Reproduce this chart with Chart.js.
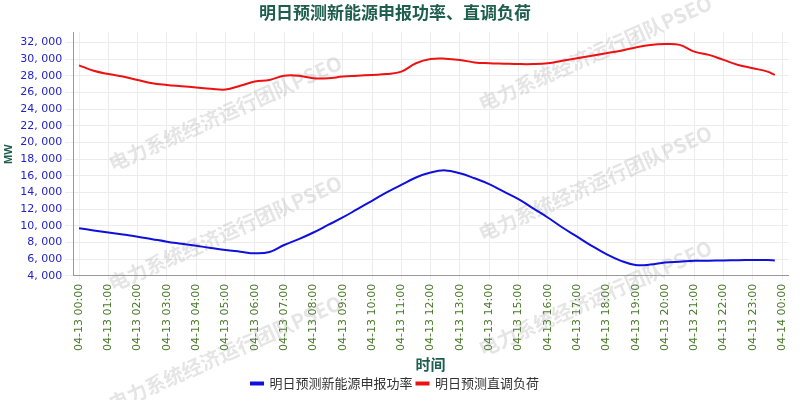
<!DOCTYPE html>
<html><head><meta charset="utf-8">
<script src="https://cdn.jsdelivr.net/npm/chart.js"></script>
<style>body{margin:0;background:#fff}</style>
</head><body><canvas id="c" width="800" height="400"></canvas>
<script>
const hours = [0,0.5,1,1.5,2,2.5,3,3.5,4,4.5,5,5.5,6,6.5,7,7.5,8,8.5,9,9.5,10,10.5,11,11.5,12,12.5,13,13.5,14,14.5,15,15.5,16,16.5,17,17.5,18,18.5,19,19.5,20,20.5,21,21.5,22,22.5,23,23.5,23.75];
const newEnergy = [9700,9450,9200,8950,8700,8400,8100,7850,7600,7350,7100,6900,6700,6850,7700,8400,9200,10100,11000,12000,13000,14000,14900,15800,16400,16650,16300,15700,15000,14100,13200,12100,11000,9800,8700,7600,6600,5800,5300,5350,5600,5700,5800,5820,5850,5880,5900,5900,5850];
const load = [29250,28600,28200,27900,27500,27100,26900,26750,26600,26450,26350,26800,27300,27500,28000,28000,27700,27700,27900,28000,28100,28200,28500,29500,30000,30050,29900,29600,29500,29450,29400,29400,29500,29800,30100,30400,30700,31000,31400,31700,31800,31700,30900,30500,29900,29300,28900,28500,28100];
const series1 = '明日预测新能源申报功率', series2 = '明日预测直调负荷';
const wm = {id:'wm', beforeDatasetsDraw(ch){const c=ch.ctx;c.save();c.font='bold 20px "Noto Sans CJK SC"';c.fillStyle='rgba(150,150,150,0.25)';
 [[110,60],[480,0],[110,180],[480,130],[110,300],[480,245]].forEach(([x,y])=>{c.save();c.translate(x+100,y+60);c.rotate(-0.42);c.fillText('电力系统经济运行团队PSEO',-110,0);c.restore();});c.restore();}};
new Chart(document.getElementById('c'),{type:'line',
data:{datasets:[
 {label:series1,data:hours.map((h,i)=>({x:h,y:newEnergy[i]})),borderColor:'#1010dd',backgroundColor:'#1010dd',borderWidth:2,pointRadius:0,tension:0.4},
 {label:series2,data:hours.map((h,i)=>({x:h,y:load[i]})),borderColor:'#ee1111',backgroundColor:'#ee1111',borderWidth:2,pointRadius:0,tension:0.4}]},
options:{responsive:false,animation:false,
 layout:{padding:{left:2,right:12,top:0,bottom:0}},
 plugins:{title:{display:true,text:'明日预测新能源申报功率、直调负荷',color:'#1e5e4e',font:{size:17,weight:'bold',family:'"Noto Sans CJK SC"'},padding:{top:2,bottom:10}},
  legend:{position:'bottom',labels:{boxWidth:12,boxHeight:2,color:'#333',font:{size:13,family:'"Noto Sans CJK SC"'},padding:4}}},
 scales:{x:{type:'linear',min:-0.2,max:24.2,afterBuildTicks(a){a.ticks=[];for(let i=0;i<=24;i++)a.ticks.push({value:i});},
   ticks:{autoSkip:false,maxRotation:90,minRotation:90,padding:4,color:'#4a7a2a',font:{size:11,family:'"DejaVu Sans"'},callback:v=>{const d=v>=24?'04-14':'04-13';const h=v>=24?0:v;return d+' '+String(h).padStart(2,'0')+':00';}},
   grid:{color:'#ececec',drawTicks:true,tickLength:4},border:{color:'#999'},
   title:{display:true,text:'时间',color:'#1e5e4e',font:{size:15,weight:'bold',family:'"Noto Sans CJK SC"'},padding:{top:0,bottom:0}}},
  y:{min:4000,max:33200,afterBuildTicks(a){a.ticks=[];for(let v=4000;v<=32000;v+=2000)a.ticks.push({value:v});},
   ticks:{autoSkip:false,color:'#2222cc',font:{size:11,family:'"DejaVu Sans"'},callback:v=>v.toLocaleString('en-US').replace(',',', ')},
   grid:{color:'#ececec'},border:{color:'#999'},
   title:{display:true,text:'MW',color:'#1e5e4e',font:{size:11,weight:'bold'},padding:{top:0,bottom:2}}}}},
plugins:[wm]});
</script></body></html>
